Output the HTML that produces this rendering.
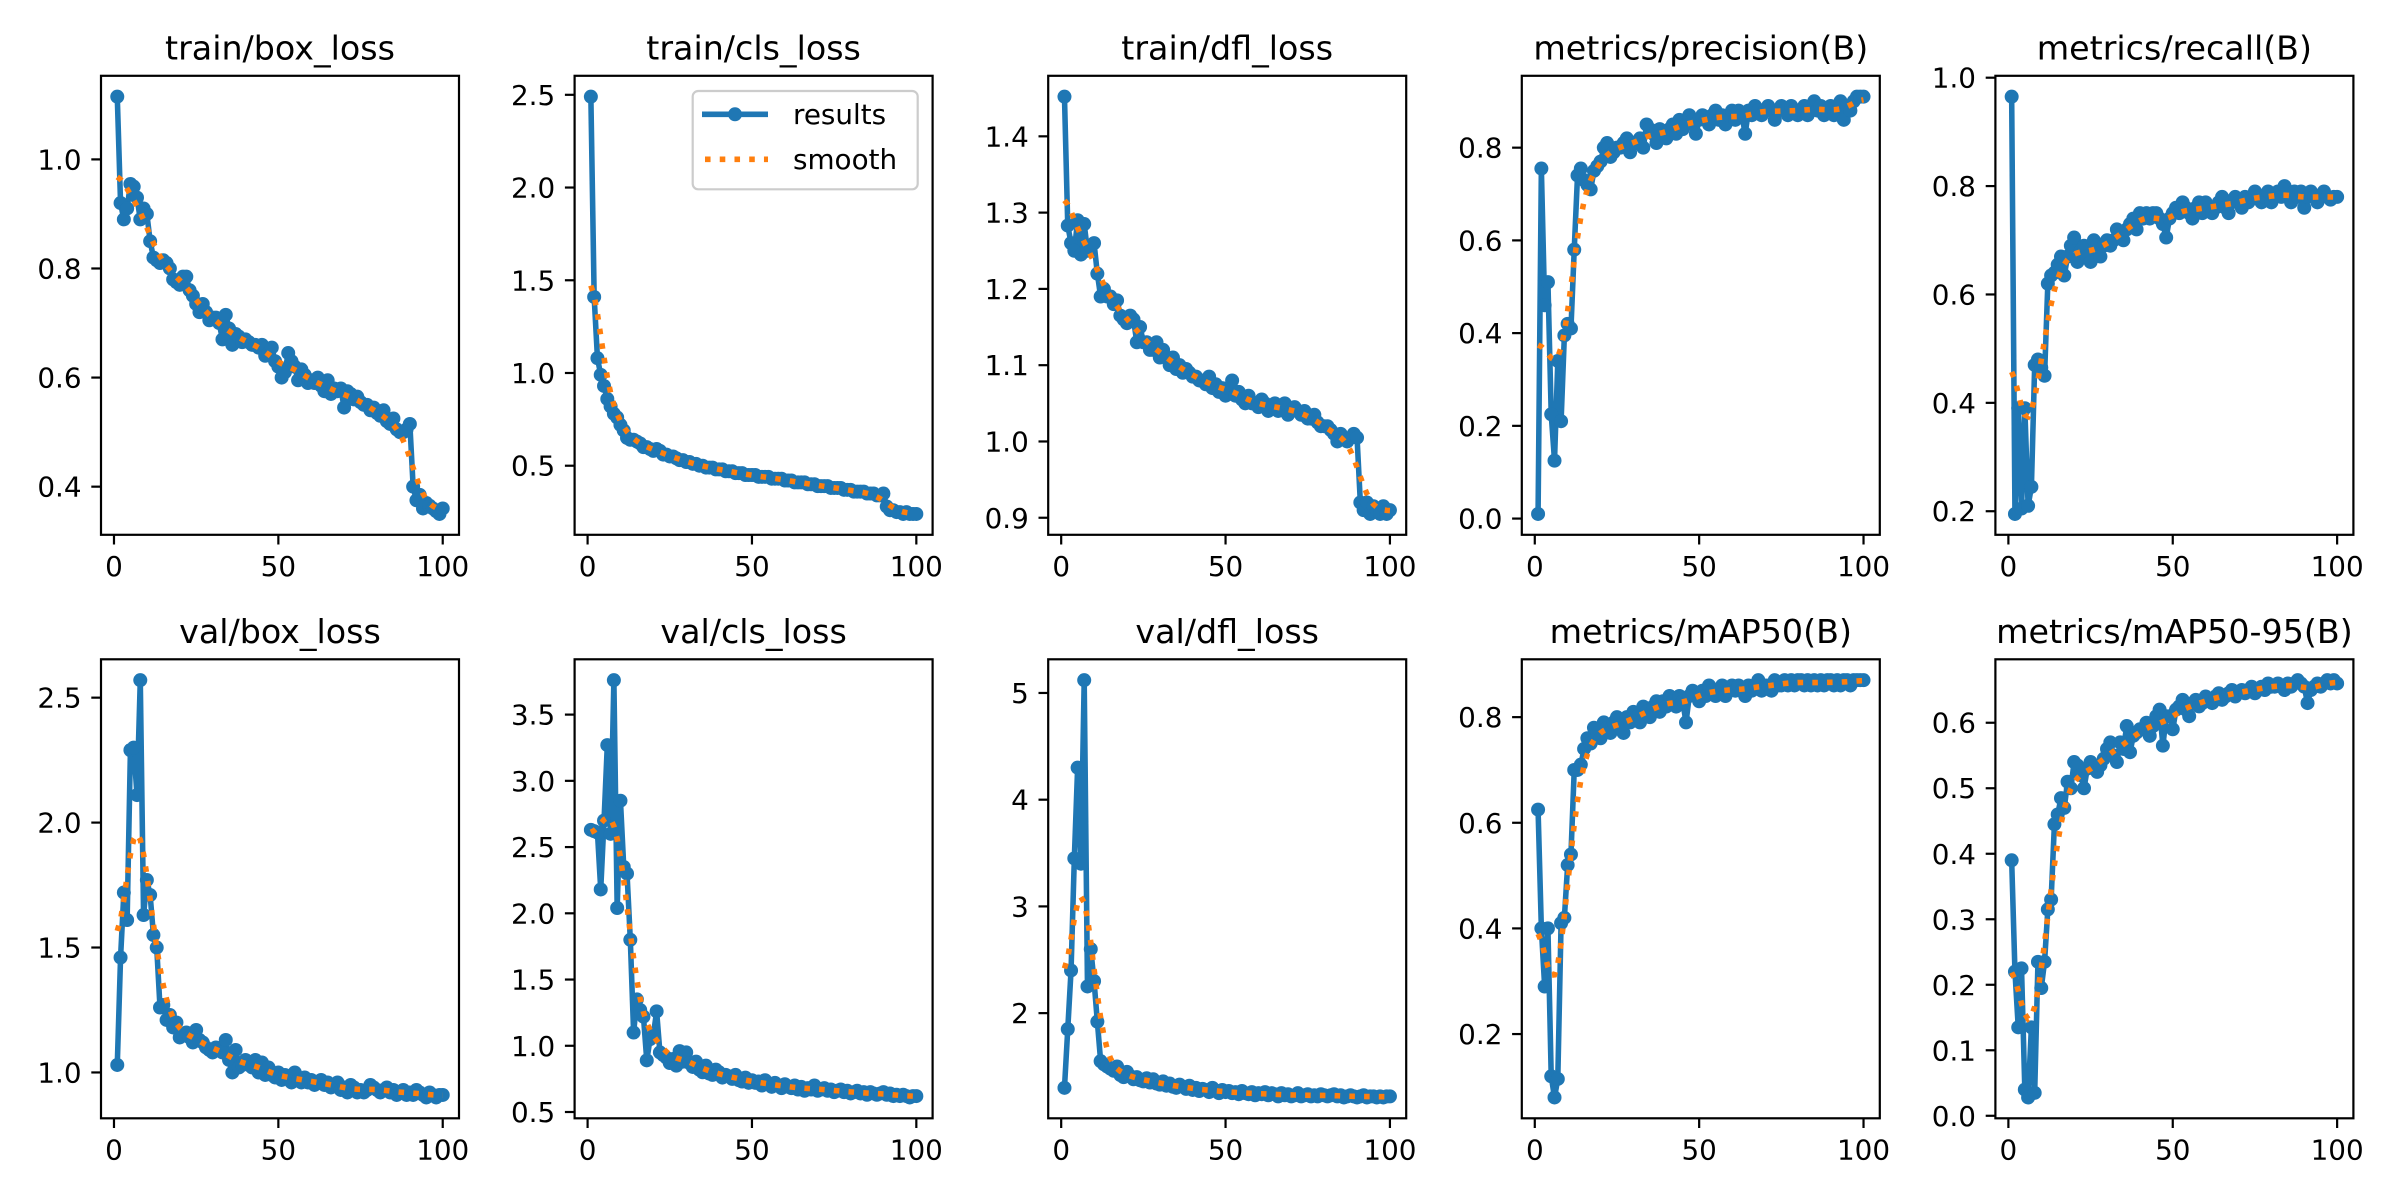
<!DOCTYPE html>
<html><head><meta charset="utf-8"><title>results</title>
<style>
html,body{margin:0;padding:0;background:#fff;}
svg{display:block;font-family:"DejaVu Sans","Liberation Sans",sans-serif;}
</style></head>
<body>
<svg id="fig" width="2400" height="1200" viewBox="0 0 2400 1200" xmlns="http://www.w3.org/2000/svg">
<rect x="0" y="0" width="2400" height="1200" fill="#fff"/>
</svg>
<script>
const epochs = Array.from({length:100},(_, i)=>i+1);
const titles = ["train/box_loss","train/cls_loss","train/dfl_loss","metrics/precision(B)","metrics/recall(B)","val/box_loss","val/cls_loss","val/dfl_loss","metrics/mAP50(B)","metrics/mAP50-95(B)"];
const trainBox = [1.115,0.92,0.89,0.91,0.955,0.95,0.93,0.89,0.91,0.90, 0.85,0.82,0.815,0.81,0.815,0.81,0.80,0.78,0.775,0.77, 0.785,0.785,0.76,0.75,0.735,0.72,0.735,0.72,0.705,0.71, 0.71,0.70,0.67,0.715,0.69,0.66,0.68,0.675,0.665,0.67, 0.665,0.66,0.66,0.655,0.66,0.64,0.645,0.655,0.63,0.62, 0.60,0.61,0.645,0.63,0.62,0.595,0.615,0.605,0.59,0.595, 0.59,0.60,0.585,0.575,0.595,0.57,0.58,0.575,0.58,0.545, 0.575,0.57,0.56,0.565,0.555,0.55,0.55,0.54,0.545,0.535, 0.53,0.54,0.52,0.515,0.525,0.505,0.50,0.50,0.505,0.515, 0.40,0.375,0.385,0.36,0.37,0.365,0.36,0.355,0.35,0.36];
const trainCls = [2.49,1.41,1.08,0.99,0.93,0.86,0.82,0.78,0.76,0.72, 0.69,0.65,0.64,0.64,0.63,0.62,0.60,0.60,0.59,0.58, 0.59,0.58,0.56,0.56,0.55,0.55,0.54,0.53,0.53,0.52, 0.52,0.51,0.51,0.50,0.50,0.49,0.49,0.49,0.48,0.48, 0.48,0.47,0.47,0.47,0.46,0.46,0.46,0.45,0.45,0.45, 0.45,0.44,0.44,0.44,0.44,0.43,0.43,0.43,0.43,0.42, 0.42,0.42,0.41,0.41,0.41,0.41,0.40,0.40,0.40,0.39, 0.39,0.39,0.39,0.38,0.38,0.38,0.38,0.37,0.37,0.37, 0.36,0.36,0.36,0.36,0.35,0.35,0.35,0.34,0.34,0.35, 0.28,0.26,0.26,0.25,0.25,0.24,0.25,0.24,0.24,0.24];
const trainDfl = [1.452,1.283,1.26,1.25,1.29,1.245,1.285,1.25,1.255,1.26, 1.22,1.19,1.20,1.19,1.19,1.18,1.185,1.165,1.16,1.155, 1.165,1.16,1.13,1.15,1.13,1.13,1.12,1.12,1.13,1.11, 1.12,1.11,1.10,1.11,1.095,1.10,1.09,1.095,1.09,1.085, 1.085,1.08,1.08,1.075,1.085,1.07,1.075,1.065,1.07,1.06, 1.07,1.08,1.06,1.065,1.055,1.05,1.06,1.05,1.05,1.045, 1.055,1.05,1.04,1.045,1.05,1.04,1.045,1.05,1.035,1.04, 1.045,1.04,1.035,1.04,1.03,1.03,1.035,1.025,1.02,1.02, 1.02,1.015,1.01,1.0,1.01,1.005,1.0,1.005,1.01,1.005, 0.92,0.91,0.92,0.905,0.915,0.91,0.905,0.915,0.905,0.91];
const precision = [0.01,0.755,0.46,0.51,0.225,0.125,0.34,0.21,0.395,0.42, 0.41,0.58,0.74,0.755,0.73,0.72,0.71,0.75,0.76,0.77, 0.80,0.81,0.78,0.79,0.80,0.80,0.81,0.82,0.79,0.81, 0.81,0.82,0.80,0.85,0.84,0.83,0.81,0.84,0.83,0.82, 0.84,0.85,0.83,0.86,0.84,0.85,0.87,0.86,0.83,0.86, 0.87,0.86,0.85,0.87,0.88,0.86,0.87,0.85,0.87,0.88, 0.86,0.88,0.87,0.83,0.88,0.87,0.89,0.88,0.87,0.88, 0.89,0.88,0.86,0.88,0.89,0.88,0.87,0.89,0.88,0.87, 0.88,0.89,0.87,0.88,0.90,0.88,0.89,0.87,0.88,0.89, 0.87,0.88,0.90,0.86,0.89,0.88,0.90,0.91,0.91,0.91];
const recall = [0.965,0.195,0.39,0.205,0.39,0.21,0.245,0.47,0.48,0.465, 0.45,0.62,0.635,0.64,0.655,0.67,0.635,0.67,0.69,0.705, 0.66,0.68,0.69,0.67,0.66,0.70,0.69,0.67,0.69,0.70, 0.69,0.70,0.72,0.71,0.70,0.72,0.73,0.74,0.72,0.75, 0.74,0.75,0.74,0.75,0.75,0.74,0.73,0.705,0.74,0.75, 0.76,0.75,0.77,0.76,0.75,0.74,0.76,0.77,0.75,0.77, 0.76,0.75,0.76,0.77,0.78,0.76,0.75,0.77,0.78,0.77, 0.76,0.78,0.77,0.78,0.79,0.78,0.77,0.78,0.79,0.77, 0.78,0.79,0.78,0.80,0.78,0.77,0.79,0.78,0.79,0.76, 0.78,0.79,0.78,0.77,0.78,0.79,0.78,0.775,0.78,0.78];
const valBox = [1.03,1.46,1.72,1.61,2.29,2.30,2.11,2.57,1.63,1.77, 1.71,1.55,1.50,1.26,1.27,1.21,1.23,1.18,1.20,1.14, 1.15,1.16,1.14,1.12,1.17,1.13,1.12,1.10,1.09,1.08, 1.10,1.09,1.08,1.13,1.05,1.00,1.09,1.02,1.03,1.05, 1.03,1.02,1.05,1.00,1.04,0.99,1.02,0.99,0.98,1.00, 0.97,0.99,0.98,0.96,1.00,0.97,0.96,0.98,0.96,0.97, 0.95,0.96,0.97,0.95,0.96,0.94,0.95,0.96,0.93,0.94, 0.92,0.95,0.94,0.92,0.93,0.92,0.93,0.95,0.94,0.93, 0.92,0.93,0.94,0.92,0.93,0.91,0.92,0.93,0.91,0.92, 0.91,0.93,0.92,0.91,0.90,0.92,0.91,0.90,0.91,0.91];
const valCls = [2.63,2.62,2.61,2.18,2.70,3.27,2.60,3.76,2.04,2.85, 2.35,2.30,1.80,1.10,1.35,1.27,1.22,0.89,1.05,1.08, 1.26,0.95,0.93,0.91,0.87,0.90,0.85,0.96,0.88,0.95, 0.87,0.84,0.88,0.82,0.80,0.85,0.79,0.78,0.82,0.80, 0.76,0.78,0.77,0.75,0.78,0.74,0.73,0.76,0.72,0.74, 0.72,0.73,0.70,0.74,0.71,0.69,0.72,0.70,0.68,0.71, 0.69,0.68,0.70,0.67,0.69,0.66,0.68,0.67,0.70,0.66, 0.67,0.68,0.66,0.67,0.65,0.66,0.67,0.65,0.66,0.64, 0.65,0.66,0.64,0.65,0.63,0.65,0.64,0.63,0.64,0.65, 0.63,0.64,0.62,0.63,0.62,0.63,0.62,0.61,0.62,0.62];
const valDfl = [1.30,1.85,2.40,3.45,4.30,3.40,5.12,2.25,2.60,2.30, 1.92,1.55,1.52,1.50,1.48,1.46,1.50,1.42,1.40,1.45, 1.41,1.38,1.40,1.37,1.36,1.39,1.35,1.38,1.34,1.33, 1.36,1.32,1.34,1.31,1.30,1.33,1.31,1.29,1.32,1.28, 1.30,1.27,1.29,1.28,1.26,1.30,1.27,1.25,1.28,1.26, 1.27,1.25,1.26,1.24,1.27,1.25,1.24,1.26,1.23,1.25, 1.24,1.26,1.23,1.25,1.24,1.22,1.25,1.23,1.24,1.22, 1.23,1.25,1.22,1.23,1.24,1.22,1.23,1.22,1.24,1.23, 1.22,1.23,1.24,1.22,1.23,1.21,1.22,1.23,1.22,1.21, 1.22,1.23,1.21,1.22,1.22,1.21,1.22,1.21,1.22,1.22];
const map50 = [0.625,0.40,0.29,0.40,0.12,0.08,0.115,0.41,0.42,0.52, 0.54,0.70,0.70,0.71,0.74,0.76,0.75,0.78,0.77,0.76, 0.79,0.78,0.77,0.79,0.80,0.78,0.77,0.80,0.79,0.81, 0.80,0.79,0.82,0.81,0.80,0.82,0.83,0.81,0.83,0.82, 0.84,0.83,0.82,0.84,0.83,0.79,0.84,0.85,0.84,0.83, 0.85,0.84,0.86,0.85,0.84,0.85,0.86,0.84,0.85,0.86, 0.85,0.86,0.85,0.84,0.86,0.85,0.86,0.87,0.85,0.86, 0.86,0.85,0.87,0.86,0.86,0.87,0.86,0.87,0.86,0.87, 0.87,0.86,0.87,0.86,0.87,0.86,0.87,0.86,0.87,0.87, 0.86,0.87,0.86,0.87,0.87,0.86,0.87,0.87,0.87,0.87];
const map5095 = [0.39,0.22,0.135,0.225,0.04,0.028,0.135,0.035,0.235,0.195, 0.235,0.315,0.33,0.445,0.46,0.485,0.47,0.51,0.50,0.54, 0.535,0.52,0.50,0.53,0.54,0.53,0.525,0.535,0.545,0.56, 0.57,0.55,0.54,0.57,0.56,0.595,0.555,0.58,0.585,0.59, 0.59,0.60,0.58,0.595,0.61,0.62,0.565,0.61,0.61,0.59, 0.62,0.625,0.635,0.62,0.61,0.63,0.635,0.625,0.63,0.64, 0.635,0.63,0.64,0.645,0.635,0.64,0.645,0.65,0.64,0.645, 0.65,0.645,0.65,0.655,0.645,0.65,0.655,0.65,0.66,0.655, 0.655,0.66,0.655,0.65,0.66,0.655,0.66,0.665,0.66,0.655, 0.63,0.65,0.655,0.66,0.655,0.66,0.665,0.66,0.665,0.66];
const seriesList = [trainBox,trainCls,trainDfl,precision,recall,valBox,valCls,valDfl,map50,map5095];
const yTicks = [[0.4,0.6,0.8,1.0],[0.5,1.0,1.5,2.0,2.5],[0.9,1.0,1.1,1.2,1.3,1.4],[0.0,0.2,0.4,0.6,0.8],[0.2,0.4,0.6,0.8,1.0],[1.0,1.5,2.0,2.5],[0.5,1.0,1.5,2.0,2.5,3.0,3.5],[2,3,4,5],[0.2,0.4,0.6,0.8],[0.0,0.1,0.2,0.3,0.4,0.5,0.6]];
const yTickLabels = [["0.4","0.6","0.8","1.0"],["0.5","1.0","1.5","2.0","2.5"],["0.9","1.0","1.1","1.2","1.3","1.4"],["0.0","0.2","0.4","0.6","0.8"],["0.2","0.4","0.6","0.8","1.0"],["1.0","1.5","2.0","2.5"],["0.5","1.0","1.5","2.0","2.5","3.0","3.5"],["2","3","4","5"],["0.2","0.4","0.6","0.8"],["0.0","0.1","0.2","0.3","0.4","0.5","0.6"]];
const xTicks = [0,50,100];
const xTickLabels = ["0","50","100"];

const NS = "http://www.w3.org/2000/svg";
const svg = document.getElementById('fig');
const BLUE = "#1f77b4", ORANGE = "#ff7f0e";
const colLeft = [101,574.6,1048.2,1521.8,1995.4], W = 358;
const rowTop = [75.8,659.3], H = 459;

function mk(tag, attrs, parent){
  const e = document.createElementNS(NS, tag);
  for (const k in attrs) e.setAttribute(k, attrs[k]);
  (parent||svg).appendChild(e);
  return e;
}
function gauss(y, sigma){
  const r = Math.round(4*sigma), w=[]; let s=0;
  for (let k=-r;k<=r;k++){const v=Math.exp(-k*k/(2*sigma*sigma)); w.push(v); s+=v;}
  const n=y.length, out=[];
  const idx = i => { while(i<0||i>=n){ if(i<0) i=-i-1; if(i>=n) i=2*n-i-1; } return i; };
  for (let i=0;i<n;i++){let a=0; for(let k=-r;k<=r;k++) a+=w[k+r]*y[idx(i+k)]; out.push(a/s);}
  return out;
}

seriesList.forEach((ys, p) => {
  const L = colLeft[p%5], T = rowTop[Math.floor(p/5)];
  const g = mk('g', {});
  
  
  const xmin = 1 - 0.05*99, xmax = 100 + 0.05*99;
  const lo = Math.min(...ys), hi = Math.max(...ys), m = (hi-lo)*0.05;
  const ymin = lo - m, ymax = hi + m;
  const sx = v => L + (v - xmin)/(xmax - xmin)*W;
  const sy = v => T + H - (v - ymin)/(ymax - ymin)*H;
  const clipId = 'clip' + p;
  const cp = mk('clipPath', {id: clipId}, g);
  mk('rect', {x:L, y:T, width:W, height:H}, cp);
  const plot = mk('g', {'clip-path':'url(#'+clipId+')'}, g);
  const line = mk('polyline', {points: epochs.map((e,i)=>sx(e).toFixed(2)+','+sy(ys[i]).toFixed(2)).join(' '), fill:'none', stroke:BLUE, 'stroke-width':5.56, 'stroke-linejoin':'round'}, plot);
  
  
  epochs.forEach((e,i) => {
    const c = mk('circle', {cx:sx(e).toFixed(2), cy:sy(ys[i]).toFixed(2), r:7, fill:BLUE}, plot);
    
    
  });
  const sm = gauss(ys, 3);
  const sl = mk('polyline', {points: epochs.map((e,i)=>sx(e).toFixed(2)+','+sy(sm[i]).toFixed(2)).join(' '), fill:'none', stroke:ORANGE, 'stroke-width':5.56, 'stroke-dasharray':'5.56 9.18'}, plot);
  
  
  const fr = mk('rect', {x:L, y:T, width:W, height:H, fill:'none', stroke:'#000', 'stroke-width':2.2}, g);
  
  
  xTicks.forEach((t,i) => {
    const x = sx(t);
    mk('line', {x1:x, x2:x, y1:T+H, y2:T+H+9.7, stroke:'#000', 'stroke-width':2.2}, g);
    const tx = mk('text', {x:x, y:T+H+41, 'font-size':27.8, 'text-anchor':'middle', fill:'#000'}, g);
    tx.textContent = xTickLabels[i];
    
    
  });
  yTicks[p].forEach((t,i) => {
    const y = sy(t);
    if (y < T-1 || y > T+H+1) return;
    mk('line', {x1:L-9.7, x2:L, y1:y, y2:y, stroke:'#000', 'stroke-width':2.2}, g);
    const tx = mk('text', {x:L-19.4, y:y+10, 'font-size':27.8, 'text-anchor':'end', fill:'#000'}, g);
    tx.textContent = yTickLabels[p][i];
    
    
  });
  const tt = mk('text', {x:L+W/2, y:T-16.5, 'font-size':33.3, 'text-anchor':'middle', fill:'#000'}, g);
  tt.textContent = titles[p];
  
  
});

const lg = mk('g', {});


mk('rect', {x:692.7, y:91, width:225, height:98.3, rx:5.5, fill:'#fff', 'fill-opacity':0.8, stroke:'#cccccc', 'stroke-width':2.2}, lg);
mk('line', {x1:702, x2:768, y1:114.3, y2:114.3, stroke:BLUE, 'stroke-width':5.56}, lg);
mk('circle', {cx:735, cy:114.3, r:7, fill:BLUE}, lg);
const t1 = mk('text', {x:793, y:124, 'font-size':27.8, fill:'#000'}, lg);
t1.textContent = 'results';


mk('line', {x1:705, x2:768, y1:159.3, y2:159.3, stroke:ORANGE, 'stroke-width':5.56, 'stroke-dasharray':'5.56 9.18'}, lg);
const t2 = mk('text', {x:793, y:169, 'font-size':27.8, fill:'#000'}, lg);
t2.textContent = 'smooth';


</script>
</body></html>
